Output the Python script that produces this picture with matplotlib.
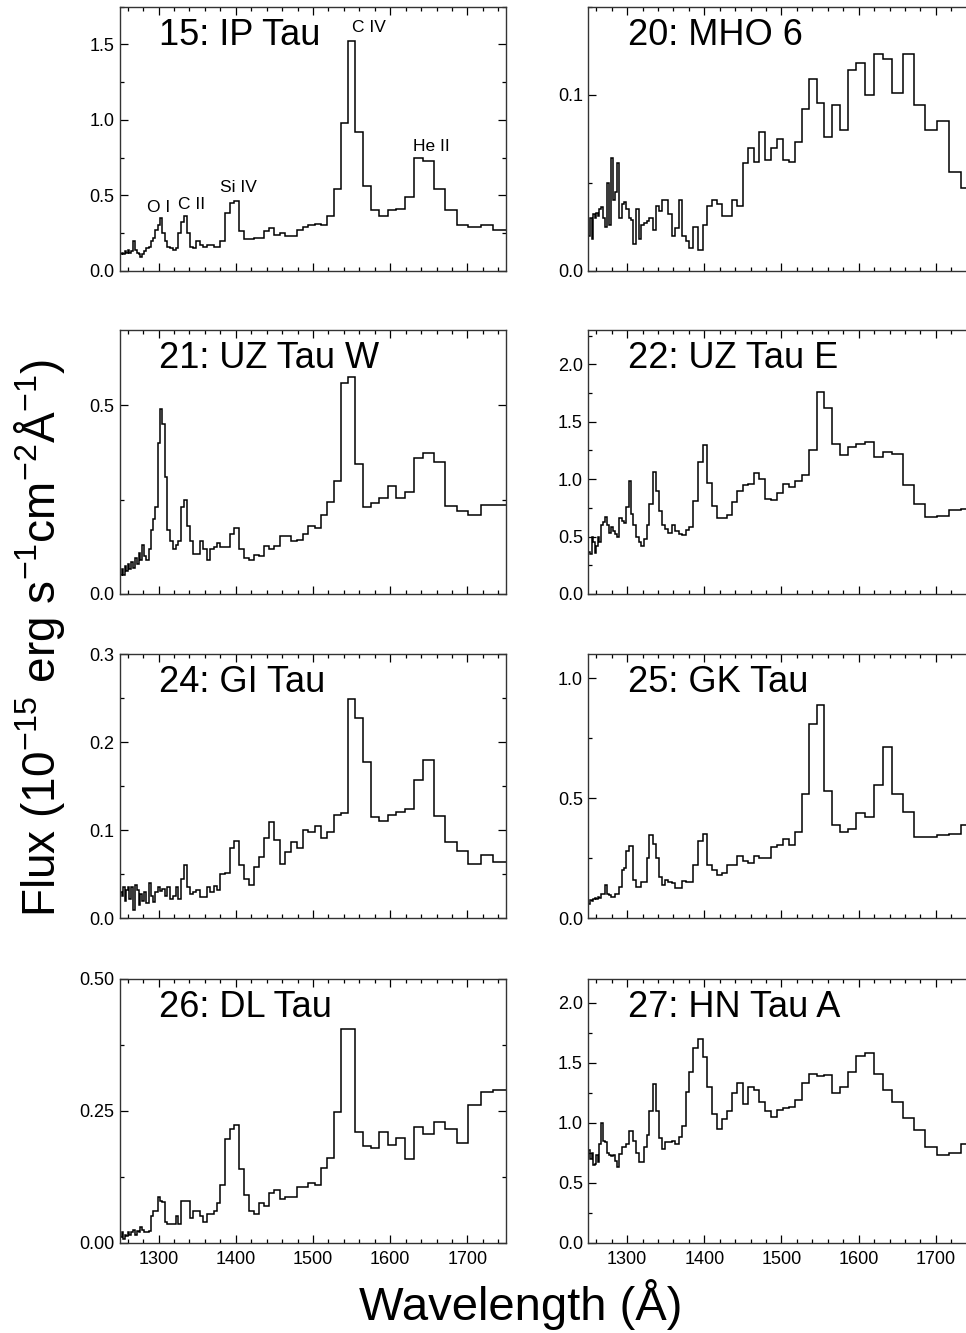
import matplotlib
matplotlib.use("Agg")
import matplotlib.pyplot as plt
from matplotlib.ticker import MultipleLocator, FormatStrFormatter

plt.rcParams['font.family'] = ['Liberation Sans', 'DejaVu Sans']
plt.rcParams['mathtext.fontset'] = 'custom'
plt.rcParams['mathtext.rm'] = 'Liberation Sans'
plt.rcParams['mathtext.it'] = 'Liberation Sans:italic'
plt.rcParams['mathtext.bf'] = 'Liberation Sans:bold'

# wavelength bin edges (Angstrom), prism bins get wider to the red
wave_edges = [1250, 1252, 1254, 1256, 1258, 1260, 1262, 1264, 1266.5, 1269,
              1271.5, 1274, 1276.5, 1279, 1281.5, 1284, 1287, 1290, 1293, 1296,
              1299, 1302, 1305, 1308, 1311.5, 1315, 1318.5, 1322, 1325.5, 1329,
              1333, 1337, 1341, 1345, 1349, 1353.5, 1358, 1362.5, 1367, 1371.5,
              1376, 1380, 1386, 1392, 1398, 1404, 1410, 1416.5, 1423, 1429.5,
              1436, 1443, 1450, 1457, 1464, 1471.5, 1479, 1486.5, 1494, 1502,
              1510, 1518, 1527, 1536, 1545.5, 1555, 1565, 1575.5, 1586, 1597,
              1608, 1619.5, 1631, 1643, 1657, 1671, 1686, 1701, 1717, 1733,
              1750]

# fluxes in 1e-15 erg/s/cm2/A, one value per bin
flux_ip_tau = [0.11, 0.12, 0.11, 0.13, 0.12, 0.14, 0.12, 0.13, 0.20, 0.14,
               0.12, 0.11, 0.09, 0.11, 0.13, 0.15, 0.16, 0.20, 0.22, 0.27,
               0.30, 0.35, 0.25, 0.20, 0.16, 0.15, 0.14, 0.15, 0.25, 0.32,
               0.36, 0.25, 0.16, 0.15, 0.20, 0.17, 0.16, 0.17, 0.17, 0.16,
               0.16, 0.20, 0.38, 0.45, 0.46, 0.26, 0.21, 0.21, 0.22, 0.22,
               0.26, 0.28, 0.24, 0.25, 0.23, 0.23, 0.27, 0.29, 0.30, 0.31,
               0.30, 0.36, 0.54, 0.98, 1.52, 0.92, 0.56, 0.40, 0.36, 0.40,
               0.41, 0.49, 0.75, 0.73, 0.54, 0.40, 0.30, 0.29, 0.30, 0.27]

flux_mho_6 = [0.020, 0.030, 0.018, 0.032, 0.030, 0.033, 0.031, 0.035, 0.036, 0.030,
              0.025, 0.050, 0.026, 0.064, 0.040, 0.045, 0.061, 0.030, 0.038, 0.039,
              0.035, 0.030, 0.029, 0.015, 0.035, 0.018, 0.026, 0.027, 0.028, 0.030,
              0.023, 0.037, 0.034, 0.040, 0.040, 0.032, 0.020, 0.024, 0.040, 0.020,
              0.017, 0.013, 0.025, 0.012, 0.026, 0.037, 0.040, 0.038, 0.031, 0.031,
              0.040, 0.037, 0.061, 0.070, 0.062, 0.079, 0.063, 0.070, 0.075, 0.063,
              0.062, 0.073, 0.092, 0.109, 0.095, 0.076, 0.094, 0.080, 0.114, 0.118,
              0.100, 0.123, 0.120, 0.101, 0.123, 0.094, 0.080, 0.085, 0.056, 0.047]

flux_uz_tau_w = [0.05, 0.065, 0.05, 0.075, 0.06, 0.08, 0.065, 0.085, 0.07, 0.095,
                 0.08, 0.108, 0.09, 0.13, 0.10, 0.09, 0.12, 0.17, 0.20, 0.23,
                 0.40, 0.49, 0.45, 0.31, 0.17, 0.14, 0.12, 0.13, 0.14, 0.23,
                 0.25, 0.18, 0.14, 0.105, 0.105, 0.14, 0.12, 0.09, 0.12, 0.125,
                 0.135, 0.125, 0.125, 0.16, 0.175, 0.12, 0.095, 0.09, 0.103, 0.10,
                 0.128, 0.12, 0.127, 0.155, 0.155, 0.14, 0.143, 0.158, 0.18, 0.175,
                 0.21, 0.245, 0.30, 0.56, 0.575, 0.345, 0.23, 0.24, 0.255, 0.285,
                 0.255, 0.27, 0.36, 0.375, 0.35, 0.233, 0.22, 0.21, 0.235, 0.235]

flux_uz_tau_e = [0.37, 0.35, 0.50, 0.45, 0.36, 0.42, 0.50, 0.45, 0.60, 0.63,
                 0.67, 0.60, 0.53, 0.58, 0.55, 0.52, 0.50, 0.66, 0.64, 0.62,
                 0.76, 0.98, 0.70, 0.60, 0.50, 0.45, 0.42, 0.48, 0.60, 0.78,
                 1.06, 0.90, 0.72, 0.60, 0.57, 0.53, 0.60, 0.55, 0.52, 0.51,
                 0.56, 0.58, 0.81, 1.15, 1.30, 0.97, 0.77, 0.66, 0.66, 0.69,
                 0.80, 0.90, 0.95, 0.96, 1.05, 1.00, 0.83, 0.82, 0.88, 0.96,
                 0.93, 0.98, 1.04, 1.25, 1.76, 1.62, 1.31, 1.21, 1.28, 1.31,
                 1.32, 1.19, 1.24, 1.22, 0.95, 0.78, 0.67, 0.68, 0.73, 0.74]

flux_gi_tau = [0.030, 0.025, 0.035, 0.020, 0.032, 0.036, 0.022, 0.035, 0.010, 0.038,
               0.032, 0.015, 0.028, 0.020, 0.030, 0.017, 0.040, 0.025, 0.018, 0.030,
               0.035, 0.031, 0.033, 0.025, 0.035, 0.022, 0.025, 0.035, 0.022, 0.045,
               0.060, 0.036, 0.028, 0.030, 0.032, 0.024, 0.024, 0.035, 0.030, 0.037,
               0.032, 0.050, 0.052, 0.080, 0.088, 0.060, 0.045, 0.038, 0.058, 0.070,
               0.091, 0.109, 0.089, 0.062, 0.075, 0.087, 0.080, 0.100, 0.098, 0.105,
               0.091, 0.098, 0.117, 0.120, 0.249, 0.228, 0.178, 0.115, 0.111, 0.117,
               0.121, 0.124, 0.157, 0.180, 0.116, 0.087, 0.076, 0.062, 0.072, 0.064]

flux_gk_tau = [0.060, 0.075, 0.070, 0.080, 0.085, 0.080, 0.090, 0.085, 0.100, 0.100,
               0.140, 0.100, 0.095, 0.090, 0.090, 0.100, 0.100, 0.130, 0.200, 0.210,
               0.280, 0.300, 0.300, 0.160, 0.130, 0.130, 0.150, 0.150, 0.250, 0.347,
               0.310, 0.250, 0.170, 0.140, 0.160, 0.150, 0.145, 0.125, 0.125, 0.155,
               0.150, 0.150, 0.220, 0.323, 0.350, 0.220, 0.200, 0.180, 0.190, 0.220,
               0.220, 0.260, 0.240, 0.230, 0.258, 0.250, 0.250, 0.296, 0.305, 0.330,
               0.307, 0.360, 0.519, 0.810, 0.890, 0.530, 0.390, 0.360, 0.370, 0.440,
               0.420, 0.555, 0.714, 0.517, 0.443, 0.337, 0.340, 0.345, 0.350, 0.390]

flux_dl_tau = [0.010, 0.020, 0.008, 0.015, 0.012, 0.020, 0.015, 0.020, 0.025, 0.015,
               0.022, 0.020, 0.030, 0.025, 0.020, 0.020, 0.022, 0.050, 0.060, 0.060,
               0.087, 0.080, 0.077, 0.040, 0.035, 0.035, 0.035, 0.050, 0.035, 0.079,
               0.079, 0.079, 0.047, 0.060, 0.060, 0.050, 0.040, 0.055, 0.055, 0.060,
               0.075, 0.110, 0.196, 0.216, 0.223, 0.140, 0.090, 0.060, 0.055, 0.075,
               0.070, 0.095, 0.100, 0.082, 0.086, 0.086, 0.105, 0.105, 0.113, 0.110,
               0.142, 0.161, 0.248, 0.405, 0.405, 0.209, 0.183, 0.179, 0.210, 0.186,
               0.198, 0.158, 0.220, 0.205, 0.228, 0.215, 0.188, 0.260, 0.286, 0.290]

flux_hn_tau_a = [0.77, 0.70, 0.75, 0.65, 0.66, 0.73, 0.67, 0.82, 1.00, 0.85,
                 0.84, 0.75, 0.73, 0.72, 0.73, 0.68, 0.63, 0.74, 0.80, 0.80,
                 0.82, 0.93, 0.93, 0.85, 0.75, 0.67, 0.67, 0.80, 0.90, 1.10,
                 1.32, 1.10, 0.87, 0.78, 0.84, 0.84, 0.85, 0.82, 0.88, 0.97,
                 1.26, 1.42, 1.62, 1.70, 1.55, 1.30, 1.07, 0.95, 1.03, 1.10,
                 1.25, 1.33, 1.16, 1.30, 1.27, 1.17, 1.10, 1.05, 1.11, 1.12,
                 1.13, 1.19, 1.33, 1.41, 1.39, 1.40, 1.25, 1.30, 1.42, 1.56,
                 1.58, 1.41, 1.27, 1.17, 1.04, 0.94, 0.80, 0.73, 0.75, 0.82]

star_names = ["15: IP Tau", "20: MHO 6", "21: UZ Tau W", "22: UZ Tau E",
              "24: GI Tau", "25: GK Tau", "26: DL Tau", "27: HN Tau A"]
star_flux = [flux_ip_tau, flux_mho_6, flux_uz_tau_w, flux_uz_tau_e,
             flux_gi_tau, flux_gk_tau, flux_dl_tau, flux_hn_tau_a]
y_top = [1.75, 0.15, 0.70, 2.30, 0.30, 1.10, 0.50, 2.20]
y_major = [0.5, 0.1, 0.5, 0.5, 0.1, 0.5, 0.25, 0.5]
y_fmt = ['%.1f', '%.1f', '%.1f', '%.1f', '%.1f', '%.1f', '%.2f', '%.1f']

# emission line labels for IP Tau
line_names = ["O I", "C II", "Si IV", "C IV", "He II"]
line_wave = [1285, 1325, 1380, 1550, 1630]
line_flux = [0.39, 0.41, 0.52, 1.585, 0.795]

fig = plt.figure(figsize=(9.66, 13.33), dpi=100)

col_left = [0.1242, 0.6092]
row_bottom = [0.7969, 0.5544, 0.3111, 0.0677]
ax_w, ax_h = 0.3996, 0.1981

for i in range(8):
    r, c = i // 2, i % 2
    ax = fig.add_axes([col_left[c], row_bottom[r], ax_w, ax_h])
    ax.stairs(star_flux[i], wave_edges, baseline=None, color='black', lw=1.1)
    ax.set_xlim(1250, 1750)
    ax.set_ylim(0, y_top[i])
    ax.xaxis.set_major_locator(MultipleLocator(100))
    ax.xaxis.set_minor_locator(MultipleLocator(20))
    ax.yaxis.set_major_locator(MultipleLocator(y_major[i]))
    ax.yaxis.set_minor_locator(MultipleLocator(y_major[i] / 2))
    ax.yaxis.set_major_formatter(FormatStrFormatter(y_fmt[i]))
    ax.tick_params(which='both', direction='in', top=True, right=True,
                   width=0.9, labelsize=13)
    ax.tick_params(which='major', length=5.5)
    ax.tick_params(which='minor', length=2.8)
    ax.tick_params(axis='x', pad=6)
    ax.tick_params(axis='y', pad=4)
    if r < 3:
        ax.set_xticklabels([])
    for sp in ax.spines.values():
        sp.set_linewidth(1.0)
        sp.set_color('#333333')
    ax.text(0.102, 0.856, star_names[i], transform=ax.transAxes,
            fontsize=26, ha='left', va='baseline')
    if i == 0:
        for name, wx, fy in zip(line_names, line_wave, line_flux):
            ax.text(wx, fy, name, fontsize=12.5, ha='left', va='baseline')

fig.text(0.539, 0.0098, 'Wavelength (Å)', fontsize=34, ha='center', va='baseline')
fig.text(0.041, 0.5214, r'Flux (10$^{-15}$ erg s$^{-1}$cm$^{-2}$Å$^{-1}$)',
         fontsize=33, rotation=90, ha='center', va='center')

fig.savefig('out.png', dpi=100)
